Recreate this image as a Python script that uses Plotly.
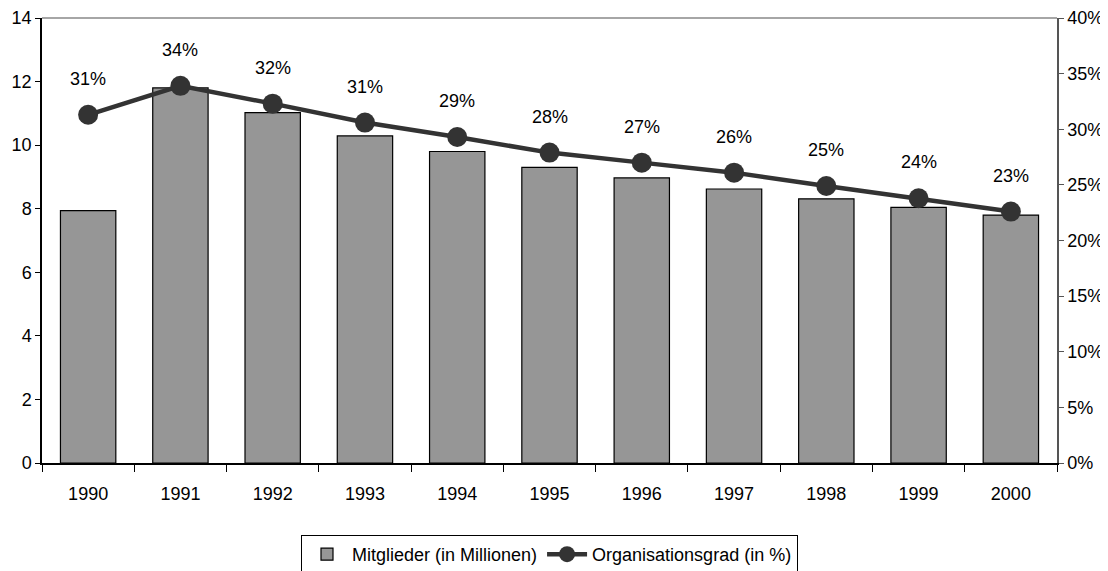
"""Gewerkschaftsmitglieder und Organisationsgrad 1990-2000."""
import plotly.graph_objects as go

# --- Data ---
YEARS = ["1990", "1991", "1992", "1993", "1994", "1995",
         "1996", "1997", "1998", "1999", "2000"]
MEMBERS = [7.94, 11.8, 11.02, 10.29, 9.8, 9.3, 8.97, 8.62, 8.31, 8.04, 7.8]
DENSITY = [31.3, 33.9, 32.3, 30.6, 29.3, 27.9, 27.0, 26.1, 24.9, 23.8, 22.6]

# --- Style ---
FONT = dict(family="Liberation Sans, Arial, sans-serif", size=18, color="black")
BAR_COLOR = "#969696"
LINE_COLOR = "#333333"
RIGHT_AXIS_COLOR = "#555555"

# figure is a bit smaller than the window: the page body adds ~8px margin
FIG_W, FIG_H = 1100, 563

fig = go.Figure()

fig.add_trace(go.Bar(
    x=YEARS, y=MEMBERS, name="Mitglieder (in Millionen)",
    marker=dict(color=BAR_COLOR, line=dict(color="black", width=1.2)),
    width=0.6,
))

fig.add_trace(go.Scatter(
    x=YEARS, y=DENSITY, name="Organisationsgrad (in %)", yaxis="y2",
    mode="lines+markers",
    line=dict(color=LINE_COLOR, width=4.5),
    marker=dict(color=LINE_COLOR, size=20),
))

# percentage labels above the markers (x given as category index)
for i, val in enumerate(DENSITY):
    fig.add_annotation(
        x=i, y=val, yref="y2", text=f"{round(val):d}%",
        showarrow=False, yshift=36, font=FONT,
    )

fig.update_layout(
    width=FIG_W, height=FIG_H,
    margin=dict(l=34, r=51, t=10, b=108, autoexpand=False),
    plot_bgcolor="white", paper_bgcolor="white",
    font=FONT,
    xaxis=dict(
        type="category", range=[-0.5, len(YEARS) - 0.5], automargin=False,
        tickson="boundaries", ticks="outside", ticklen=7, tickangle=0,
        tickcolor="black", showline=True, linecolor="black", linewidth=1.5,
        showgrid=False, tickfont=FONT, ticklabelstandoff=14,
    ),
    yaxis=dict(
        range=[0, 14], dtick=2, ticks="outside", ticklen=5, tickcolor="black",
        showline=True, linecolor="black", linewidth=1.5, showgrid=False,
        zeroline=False, tickfont=FONT, automargin=False,
    ),
    yaxis2=dict(
        range=[0, 40], dtick=5, ticksuffix="%", overlaying="y", side="right",
        ticks="outside", ticklen=5, tickcolor=RIGHT_AXIS_COLOR,
        showline=True, linecolor=RIGHT_AXIS_COLOR, linewidth=1.5,
        showgrid=False, zeroline=False, tickfont=FONT, automargin=False,
    ),
    # helper axes that draw the inner half of the crossing tick marks
    yaxis3=dict(
        range=[0, 14], dtick=2, overlaying="y", side="left", ticks="inside",
        ticklen=5, tickcolor="black", showticklabels=False, showline=False,
        showgrid=False, zeroline=False, automargin=False,
    ),
    yaxis4=dict(
        range=[0, 40], dtick=5, overlaying="y", side="right", ticks="inside",
        ticklen=5, tickcolor=RIGHT_AXIS_COLOR, showticklabels=False,
        showline=False, showgrid=False, zeroline=False, automargin=False,
    ),
    xaxis2=dict(
        range=[-0.5, len(YEARS) - 0.5], tick0=-0.5, dtick=1, overlaying="x",
        side="bottom", ticks="inside", ticklen=7, tickcolor="black",
        showticklabels=False, showline=False, showgrid=False, zeroline=False,
        automargin=False,
    ),
    legend=dict(
        orientation="h", x=0.5, xanchor="center",
        yref="container", y=(FIG_H - 527) / FIG_H, yanchor="top",
        bordercolor="black", borderwidth=1, font=FONT, traceorder="normal",
        itemwidth=40,
    ),
    showlegend=True,
)

# gray frame line along the top of the plot area
fig.add_shape(type="line", xref="paper", yref="paper", x0=0, x1=1, y0=1, y1=1,
              line=dict(color="#888888", width=1.5))

fig.write_html("out.html")
